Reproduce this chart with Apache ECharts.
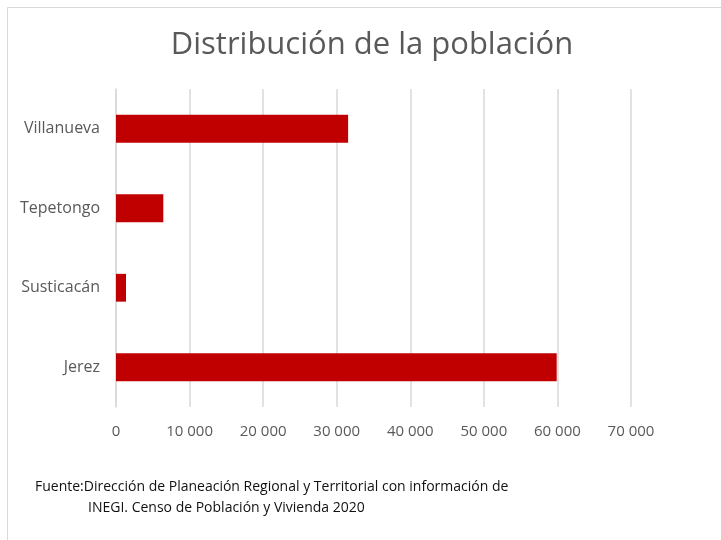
<!DOCTYPE html>
<html><head><meta charset="utf-8">
<script src="https://cdn.jsdelivr.net/npm/echarts@6/dist/echarts.min.js"></script>
<style>html,body{margin:0;padding:0;background:#fff}#c{width:721px;height:540px}</style>
</head><body><div id="c"></div>
<script>
const categories = ["Jerez", "Susticacán", "Tepetongo", "Villanueva"];
const population = [59900, 1360, 6430, 31550];
const xTicks = [0, 10000, 20000, 30000, 40000, 50000, 60000, 70000];
const titleText = "Distribución de la población";
const sourceLines = ["Fuente:Dirección de Planeación Regional y Territorial con información de", "INEGI. Censo de Población y Vivienda 2020"];

const FONT = "'Open Sans', 'Noto Sans', sans-serif";
const chart = echarts.init(document.getElementById('c'), null, {renderer: 'canvas'});
chart.setOption({
  animation: false,
  backgroundColor: '#fff',
  title: {
    text: titleText, left: 367, top: 25, textAlign: 'center',
    textStyle: {fontFamily: FONT, fontSize: 31, fontWeight: 'normal', color: '#595959'}
  },
  grid: {left: 116, right: 90, top: 89, bottom: 133, containLabel: false},
  xAxis: {
    type: 'value', min: xTicks[0], max: xTicks[xTicks.length - 1], interval: 10000,
    axisLine: {show: false}, axisTick: {show: false},
    splitLine: {show: true, lineStyle: {color: '#d9d9d9', width: 1.5}},
    axisLabel: {
      margin: 17, fontFamily: FONT, fontSize: 15, color: '#595959',
      formatter: v => v === 0 ? '0' : String(v).replace(/\B(?=(\d{3})+(?!\d))/g, ' ')
    }
  },
  yAxis: {
    type: 'category', data: categories,
    axisLine: {show: true, lineStyle: {color: '#d9d9d9', width: 1.5}},
    axisTick: {show: false},
    axisLabel: {margin: 16, fontFamily: FONT, fontSize: 16, color: '#595959'}
  },
  series: [{
    type: 'bar', data: population, barWidth: '35%',
    itemStyle: {color: '#c00000'}
  }],
  graphic: [
    {type: 'rect', left: 5, top: 5, shape: {width: 730, height: 545}, style: {fill: 'none', stroke: '#d9d9d9', lineWidth: 1}},
    {type: 'text', left: 35, top: 480, style: {text: sourceLines[0], font: "14px 'Open Sans', sans-serif", fill: '#111'}},
    {type: 'text', left: 88, top: 501, style: {text: sourceLines[1], font: "14px 'Open Sans', sans-serif", fill: '#111'}}
  ]
});
</script></body></html>
